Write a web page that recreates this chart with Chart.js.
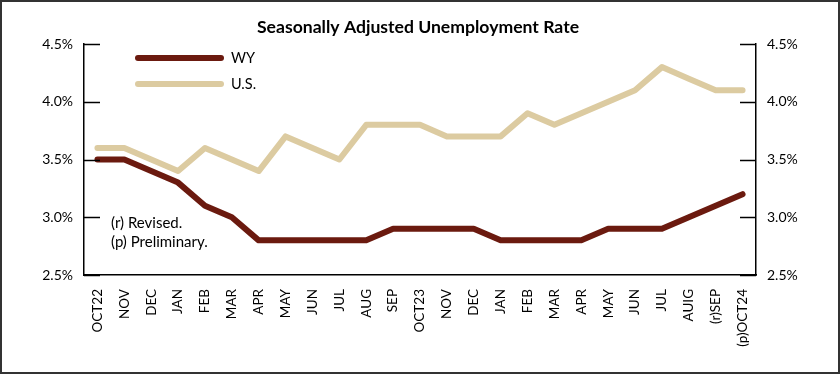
<!DOCTYPE html>
<html>
<head>
<meta charset="utf-8">
<script src="https://cdn.jsdelivr.net/npm/chart.js@4.4.1/dist/chart.umd.min.js"></script>
<style>
  html, body { margin: 0; padding: 0; background: #fff; }
  #wrap { width: 840px; height: 374px; position: relative; }
</style>
</head>
<body>
<div id="wrap"><canvas id="c" width="840" height="374"></canvas></div>
<script>
const categories = ["OCT22","NOV","DEC","JAN","FEB","MAR","APR","MAY","JUN","JUL","AUG","SEP","OCT23","NOV","DEC","JAN","FEB","MAR","APR","MAY","JUN","JUL","AUIG","(r)SEP","(p)OCT24"];
const wyValues = [3.5,3.5,3.4,3.3,3.1,3.0,2.8,2.8,2.8,2.8,2.8,2.9,2.9,2.9,2.9,2.8,2.8,2.8,2.8,2.9,2.9,2.9,3.0,3.1,3.2];
const usValues = [3.6,3.6,3.5,3.4,3.6,3.5,3.4,3.7,3.6,3.5,3.8,3.8,3.8,3.7,3.7,3.7,3.9,3.8,3.9,4.0,4.1,4.3,4.2,4.1,4.1];
const yTicks = [2.5,3.0,3.5,4.0,4.5];
const titleText = "Seasonally Adjusted Unemployment Rate";
const notes = ["(r) Revised.", "(p) Preliminary."];

const FONT = "Lato, 'Open Sans', sans-serif";

const decor = {
  id: 'decor',
  afterDraw(chart) {
    const ctx = chart.ctx;
    const ca = chart.chartArea;
    const y = chart.scales.y;
    ctx.save();
    // inward ticks
    ctx.strokeStyle = '#000';
    ctx.lineWidth = 1.5;
    yTicks.forEach(v => {
      const py = Math.round(y.getPixelForValue(v)) + 0.5;
      ctx.beginPath(); ctx.moveTo(ca.left, py); ctx.lineTo(ca.left + 16, py); ctx.stroke();
      ctx.beginPath(); ctx.moveTo(ca.right - 16, py); ctx.lineTo(ca.right, py); ctx.stroke();
    });
    // title
    ctx.fillStyle = '#000';
    ctx.font = "bold 17.6px " + FONT;
    ctx.textAlign = 'center';
    ctx.textBaseline = 'middle';
    ctx.fillText(titleText, 418, 27);
    // legend
    ctx.textAlign = 'left';
    ctx.font = "14.5px " + FONT;
    const legendY = [58, 84];
    chart.data.datasets.forEach((ds, i) => {
      ctx.strokeStyle = ds.borderColor;
      ctx.lineWidth = 6;
      ctx.lineCap = 'round';
      ctx.beginPath(); ctx.moveTo(138, legendY[i]); ctx.lineTo(221, legendY[i]); ctx.stroke();
      ctx.fillStyle = '#000';
      ctx.fillText(ds.label, 231, legendY[i]);
    });
    // notes
    ctx.font = "15px " + FONT;
    notes.forEach((t, i) => ctx.fillText(t, 111, 223 + i * 19.5));
    // frame
    ctx.strokeStyle = '#333';
    ctx.lineWidth = 2;
    ctx.strokeRect(1, 1, 838, 372);
    ctx.restore();
  }
};

new Chart(document.getElementById('c'), {
  type: 'line',
  data: {
    labels: categories,
    datasets: [
      { label: 'WY', data: wyValues, borderColor: '#6B1A0F', backgroundColor: '#6B1A0F', borderWidth: 6, pointRadius: 0, tension: 0, borderJoinStyle: 'round', borderCapStyle: 'round', yAxisID: 'y' },
      { label: 'U.S.', data: usValues, borderColor: '#DCCBA1', backgroundColor: '#DCCBA1', borderWidth: 6, pointRadius: 0, tension: 0, borderJoinStyle: 'round', borderCapStyle: 'round', yAxisID: 'y' }
    ]
  },
  options: {
    responsive: false,
    animation: false,
    devicePixelRatio: 1,
    layout: { padding: { top: 44, left: 0, right: 0, bottom: 0 } },
    plugins: { legend: { display: false }, title: { display: false }, tooltip: { enabled: false } },
    scales: {
      x: {
        offset: true,
        grid: { display: false, drawTicks: false },
        border: { display: true, color: '#000', width: 1.5 },
        ticks: { color: '#000', font: { family: FONT, size: 13.5 }, minRotation: 90, maxRotation: 90, padding: 14, autoSkip: false },
        afterFit(s) { s.height = 99; }
      },
      y: {
        position: 'left',
        min: 2.5, max: 4.5,
        afterBuildTicks(s) { s.ticks = yTicks.map(v => ({ value: v })); },
        grid: { display: false, drawTicks: false },
        border: { display: true, color: '#000', width: 1.5 },
        ticks: { color: '#000', font: { family: FONT, size: 14 }, padding: 11, callback: v => v.toFixed(1) + '%' },
        afterFit(s) { s.width = 84; }
      },
      y2: {
        position: 'right',
        min: 2.5, max: 4.5,
        afterBuildTicks(s) { s.ticks = yTicks.map(v => ({ value: v })); },
        grid: { display: false, drawTicks: false },
        border: { display: true, color: '#000', width: 1.5 },
        ticks: { color: '#000', font: { family: FONT, size: 14 }, padding: 11, callback: v => v.toFixed(1) + '%' },
        afterFit(s) { s.width = 84; }
      }
    }
  },
  plugins: [decor]
});
</script>
</body>
</html>
